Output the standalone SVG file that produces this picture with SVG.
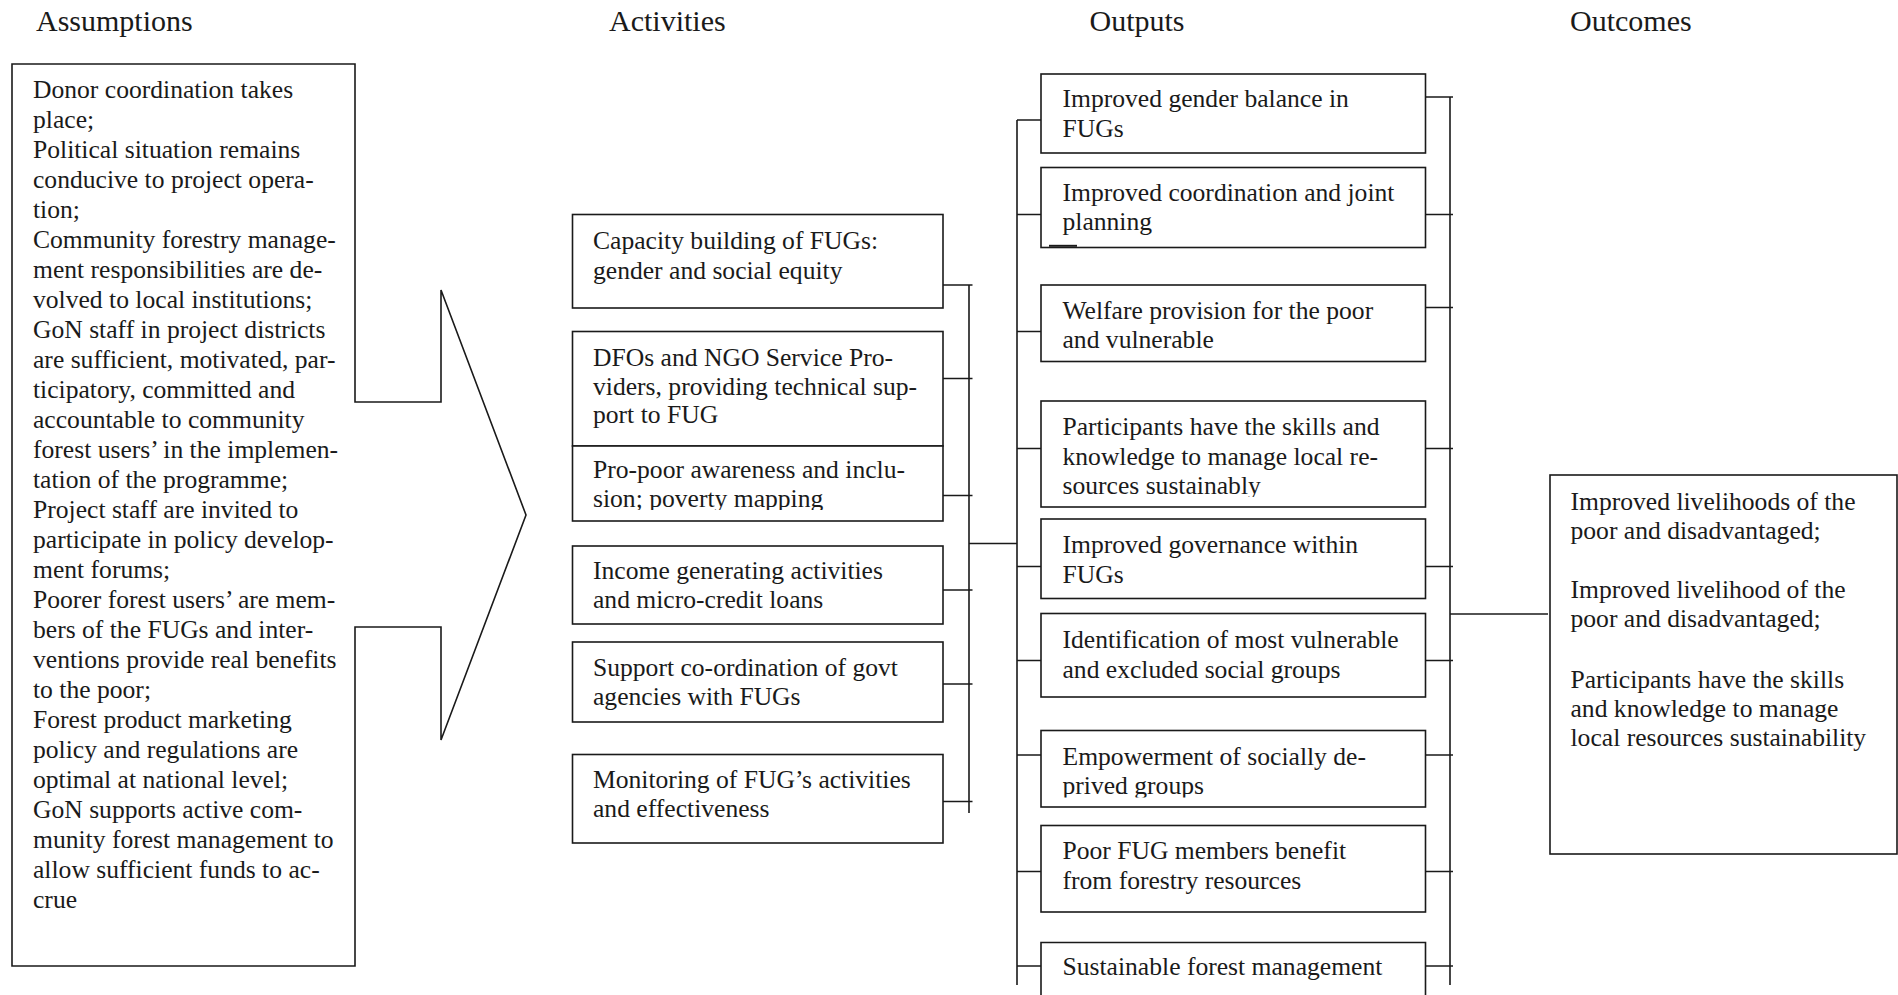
<svg xmlns="http://www.w3.org/2000/svg" width="1898" height="995" viewBox="0 0 1898 995">
<style>
.box{fill:#fff;stroke:#1a1a1a;stroke-width:1.6}
.ln{fill:none;stroke:#1a1a1a;stroke-width:1.6}
.t{font-family:"Liberation Serif","Times New Roman",serif;font-size:25.6px;fill:#1a1a1a}
.h{font-family:"Liberation Serif","Times New Roman",serif;font-size:30px;fill:#1a1a1a}
</style>
<defs>
<clipPath id="cA3"><rect x="560" y="446" width="390" height="64"/></clipPath>
<clipPath id="cO4"><rect x="1041" y="401" width="390" height="96"/></clipPath>
<clipPath id="cO7"><rect x="1041" y="730" width="390" height="67.5"/></clipPath>
</defs>
<rect width="1898" height="995" fill="#fff"/>

<g id="headers">
<text class="h" x="36" y="31">Assumptions</text>
<text class="h" x="609" y="31">Activities</text>
<text class="h" x="1089.5" y="31">Outputs</text>
<text class="h" x="1570" y="31">Outcomes</text>
</g>

<g id="assumptions">
<path class="box" d="M12,64 H355 V402 H441 V290 L526,515 L441,740 V627 H355 V966 H12 Z"/>
<text class="t" x="33" y="98">
<tspan x="33" y="98">Donor coordination takes</tspan>
<tspan x="33" y="128">place;</tspan>
<tspan x="33" y="158">Political situation remains</tspan>
<tspan x="33" y="188">conducive to project opera-</tspan>
<tspan x="33" y="218">tion;</tspan>
<tspan x="33" y="248">Community forestry manage-</tspan>
<tspan x="33" y="278">ment responsibilities are de-</tspan>
<tspan x="33" y="308">volved to local institutions;</tspan>
<tspan x="33" y="338">GoN staff in project districts</tspan>
<tspan x="33" y="368">are sufficient, motivated, par-</tspan>
<tspan x="33" y="398">ticipatory, committed and</tspan>
<tspan x="33" y="428">accountable to community</tspan>
<tspan x="33" y="458">forest users’ in the implemen-</tspan>
<tspan x="33" y="488">tation of the programme;</tspan>
<tspan x="33" y="518">Project staff are invited to</tspan>
<tspan x="33" y="548">participate in policy develop-</tspan>
<tspan x="33" y="578">ment forums;</tspan>
<tspan x="33" y="608">Poorer forest users’ are mem-</tspan>
<tspan x="33" y="638">bers of the FUGs and inter-</tspan>
<tspan x="33" y="668">ventions provide real benefits</tspan>
<tspan x="33" y="698">to the poor;</tspan>
<tspan x="33" y="728">Forest product marketing</tspan>
<tspan x="33" y="758">policy and regulations are</tspan>
<tspan x="33" y="788">optimal at national level;</tspan>
<tspan x="33" y="818">GoN supports active com-</tspan>
<tspan x="33" y="848">munity forest management to</tspan>
<tspan x="33" y="878">allow sufficient funds to ac-</tspan>
<tspan x="33" y="908">crue</tspan>
</text>
</g>

<g id="connectors" class="ln">
<path d="M943,285 H972.5 M943,378.5 H972.5 M943,495.5 H972.5 M943,590 H972.5 M943,684 H972.5 M943,801.5 H972.5 M969,285 V813 M969,543.5 H1017"/>
<path d="M1017,120 V985 M1017,120 H1044 M1017,214.5 H1044 M1017,331.5 H1044 M1017,448.5 H1041 M1017,566.5 H1044 M1017,660.5 H1041 M1017,755 H1044 M1017,871.5 H1044 M1017,966 H1044"/>
<path d="M1450,97 V985 M1425.5,97 H1453 M1425.5,214.5 H1453 M1425.5,307.5 H1453 M1425.5,448.5 H1453 M1425.5,566.5 H1453 M1425.5,660.5 H1453 M1425.5,755 H1453 M1425.5,871.5 H1453 M1425.5,966 H1453"/>
<path d="M1450,614 H1548"/>
</g>

<g id="act1"><rect class="box" x="572.5" y="214.5" width="370.5" height="93.5"/>
<text class="t"><tspan x="593" y="249.3">Capacity building of FUGs:</tspan><tspan x="593" y="278.5">gender and social equity</tspan></text></g>
<g id="act2"><rect class="box" x="572.5" y="331.5" width="370.5" height="114.5"/>
<text class="t"><tspan x="593" y="365.7">DFOs and NGO Service Pro-</tspan><tspan x="593" y="394.5">viders, providing technical sup-</tspan><tspan x="593" y="423.3">port to FUG</tspan></text></g>
<g id="act3"><rect class="box" x="572.5" y="446" width="370.5" height="75"/>
<text class="t" clip-path="url(#cA3)"><tspan x="593" y="478.3">Pro-poor awareness and inclu-</tspan><tspan x="593" y="507">sion; poverty mapping</tspan></text></g>
<g id="act4"><rect class="box" x="572.5" y="546" width="370.5" height="78"/>
<text class="t"><tspan x="593" y="579.3">Income generating activities</tspan><tspan x="593" y="608.3">and micro-credit loans</tspan></text></g>
<g id="act5"><rect class="box" x="572.5" y="642" width="370.5" height="80"/>
<text class="t"><tspan x="593" y="675.7">Support co-ordination of govt</tspan><tspan x="593" y="705">agencies with FUGs</tspan></text></g>
<g id="act6"><rect class="box" x="572.5" y="754.5" width="370.5" height="88.5"/>
<text class="t"><tspan x="593" y="788.3">Monitoring of FUG’s activities</tspan><tspan x="593" y="817">and effectiveness</tspan></text></g>

<g id="out1"><rect class="box" x="1041" y="74" width="384.5" height="79"/>
<text class="t"><tspan x="1062.5" y="107.3">Improved gender balance in</tspan><tspan x="1062.5" y="136.7">FUGs</tspan></text></g>
<g id="out2"><rect class="box" x="1041" y="167.5" width="384.5" height="80"/>
<text class="t"><tspan x="1062.5" y="201">Improved coordination and joint</tspan><tspan x="1062.5" y="230">planning</tspan></text>
<path d="M1049,245.8 H1077" stroke="#1a1a1a" stroke-width="2"/></g>
<g id="out3"><rect class="box" x="1041" y="285" width="384.5" height="76.5"/>
<text class="t"><tspan x="1062.5" y="319.3">Welfare provision for the poor</tspan><tspan x="1062.5" y="348">and vulnerable</tspan></text></g>
<g id="out4"><rect class="box" x="1041" y="401" width="384.5" height="106"/>
<text class="t" clip-path="url(#cO4)"><tspan x="1062.5" y="435">Participants have the skills and</tspan><tspan x="1062.5" y="464.5">knowledge to manage local re-</tspan><tspan x="1062.5" y="493.5">sources sustainably</tspan></text></g>
<g id="out5"><rect class="box" x="1041" y="519" width="384.5" height="79.5"/>
<text class="t"><tspan x="1062.5" y="552.5">Improved governance within</tspan><tspan x="1062.5" y="582.5">FUGs</tspan></text></g>
<g id="out6"><rect class="box" x="1041" y="613.5" width="384.5" height="83.5"/>
<text class="t"><tspan x="1062.5" y="647.5">Identification of most vulnerable</tspan><tspan x="1062.5" y="677.5">and excluded social groups</tspan></text></g>
<g id="out7"><rect class="box" x="1041" y="730.5" width="384.5" height="76.5"/>
<text class="t" clip-path="url(#cO7)"><tspan x="1062.5" y="764.5">Empowerment of socially de-</tspan><tspan x="1062.5" y="794">prived groups</tspan></text></g>
<g id="out8"><rect class="box" x="1041" y="825.5" width="384.5" height="86.5"/>
<text class="t"><tspan x="1062.5" y="858.5">Poor FUG members benefit</tspan><tspan x="1062.5" y="889">from forestry resources</tspan></text></g>
<g id="out9"><path class="box" d="M1041,1000 V942.5 H1425.5 V1000"/>
<text class="t" x="1062.5" y="975">Sustainable forest management</text></g>

<g id="outcomes"><rect class="box" x="1550" y="475" width="347" height="379"/>
<text class="t"><tspan x="1570.5" y="510">Improved livelihoods of the</tspan><tspan x="1570.5" y="539">poor and disadvantaged;</tspan><tspan x="1570.5" y="598">Improved livelihood of the</tspan><tspan x="1570.5" y="627">poor and disadvantaged;</tspan><tspan x="1570.5" y="688">Participants have the skills</tspan><tspan x="1570.5" y="717">and knowledge to manage</tspan><tspan x="1570.5" y="746">local resources sustainability</tspan></text></g>
</svg>
